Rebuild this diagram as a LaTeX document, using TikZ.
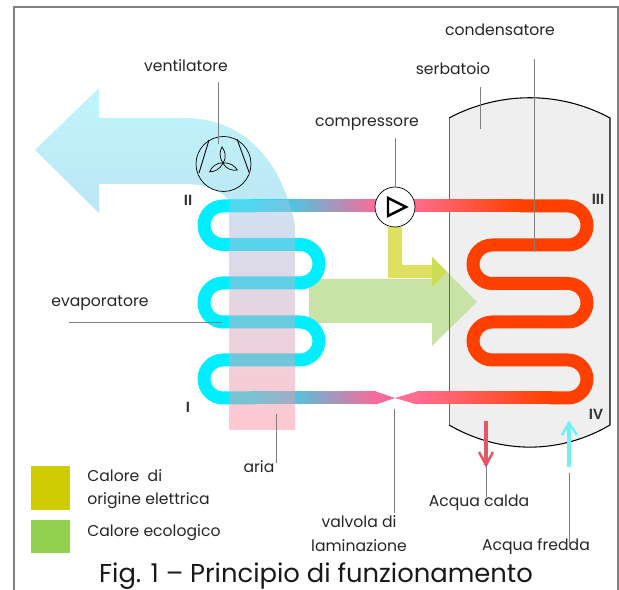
\documentclass[tikz,border=0pt]{standalone}
\usepackage{fontspec}
\setmainfont{Poppins}
\newfontfamily\romanfont{Liberation Sans}
\usepackage{tikz}
\definecolor{pipecold}{HTML}{00EEFF}
\definecolor{pipehot}{HTML}{FF4000}
\definecolor{pipepink}{HTML}{FF6E90}
\definecolor{pipemauve}{HTML}{F56C9A}
\definecolor{airtop}{HTML}{C0F5FB}
\definecolor{airbot}{HTML}{BCE6F4}
\definecolor{airmid}{HTML}{A0C4E4}
\definecolor{airmix}{HTML}{D1B1C1}
\definecolor{airlow}{HTML}{FF91A1}
\definecolor{tankgrey}{HTML}{EFEFEF}
\definecolor{heatgreen}{HTML}{C8E3A5}
\definecolor{heatyellow}{HTML}{DDE060}
\definecolor{heathead}{HTML}{CBDC55}
\definecolor{waterhot}{HTML}{E85565}
\definecolor{watercold}{HTML}{70F0F5}
\definecolor{legyellow}{HTML}{CCCC00}
\definecolor{leggreen}{HTML}{92D050}
% #1,#2 from and to x, #3 y, #4,#5 colours
\newcommand{\gradrun}[5]{%
	\foreach \i in {0,...,30} {
		\pgfmathsetmacro{\mixpct}{\i/30*100}
		\pgfmathsetmacro{\xstart}{#1+(#2-#1)*\i/31}
		\draw [line width=0.26cm,#5!\mixpct!#4] (\xstart,#3) -- (#2,#3);
	}}

\begin{document}
\begin{tikzpicture}[x=0.02cm,y=-0.02cm]

	\tikzstyle{lab}=[inner sep=0pt,anchor=base,text=black!85,font=\fontsize{8.9}{10}\selectfont]
	\tikzstyle{roman}=[inner sep=0pt,anchor=base,text=black!80,font=\fontsize{8.5}{9}\selectfont\romanfont\bfseries]
	\tikzstyle{leader}=[draw=black!50,line width=0.5pt]
	\tikzstyle{pipe}=[line width=0.26cm,rounded corners=0.384cm]

	\useasboundingbox (0,0) rectangle (619,590);
	\draw [black!50,line width=1.1pt] (14,590) -- (14,7) -- (618,7) -- (618,590);

	% air
	\path [top color=airtop,bottom color=airbot] (35,150) -- (99,88) -- (99,118) -- (185,118) .. controls (235,118) and (272,150) .. (288,200)
		-- (229,200) .. controls (220,190) and (205,184) .. (185,184) -- (99,184) -- (99,213) -- cycle;

	% tank and heat arrows
	\fill [tankgrey] (449,118) .. controls (500,91) and (560,91) .. (610,118) -- (610,425)
		.. controls (560,454.5) and (500,454.5) .. (449,425) -- cycle;
	\fill [heatgreen] (309,279) -- (432,279) -- (432,257) -- (477,302) -- (432,346) -- (432,323) -- (309,323) -- cycle;
	\fill [heatyellow] (388,227) -- (402,227) -- (402,265) -- (432,265) -- (432,278) -- (388,278) -- cycle;
	\fill [heathead] (432,257) -- (447,272) -- (432,287) -- cycle;
	\draw [black!60,line width=0.5pt] (449,425) -- (449,118);
	\draw [black,line width=0.6pt] (449,118) .. controls (500,91) and (560,91) .. (610,118) -- (610,425)
		.. controls (560,454.5) and (500,454.5) .. (449,425);

	% evaporator coil
	\draw [pipe,pipecold] (255,398) -- (204,398) -- (204,360) -- (319,360) -- (319,322) -- (204,322) -- (204,283)
		-- (319,283) -- (319,244.5) -- (204,244.5) -- (204,206) -- (255,206);
	\gradrun{250}{376}{206}{pipecold}{pipemauve}
	\gradrun{250}{376}{398}{pipecold}{pipemauve}
	\fill [pipemauve] (376,391.5) -- (395,398) -- (376,404.5) -- cycle;
	\fill [pipepink] (395,398) -- (417,391.5) -- (417,404.5) -- cycle;

	% condenser coil
	\draw [pipe,pipehot] (520,206) -- (587,206) -- (587,245) -- (473,245) -- (473,283.5) -- (587,283.5)
		-- (587,322) -- (473,322) -- (473,360) -- (587,360) -- (587,398) -- (550,398);
	\gradrun{410}{522}{206}{pipepink}{pipehot}
	\gradrun{417}{552}{398}{pipepink}{pipehot}

	% air band goes over the coil
	\path [fill opacity=0.5,top color=airmid,middle color=airmix,bottom color=airlow] (229,200) -- (288,200)
		.. controls (292,212) and (295,220) .. (295,230) -- (295,430) -- (229,430) -- cycle;

	% fan
	\node [circle,draw=black,line width=0.4pt,minimum size=1.1cm,inner sep=0pt] (fan) at (223.5,164) {};
	\draw [black,line width=0.5pt] (209,140) -- (199,173);
	\draw [black,line width=0.5pt] (237,139) -- (249,172);
	\foreach \a in {0,120,240}
		\draw [black,line width=0.4pt,rotate around={\a:(223,163)}] (223,163) .. controls (218.5,156) and (220,151) .. (222,147)
			.. controls (225,151) and (227,157) .. (223,163);

	% compressor
	\node [circle,draw=black,fill=white,line width=0.4pt,minimum size=0.8cm,inner sep=0pt] (compr) at (395,207) {};
	\draw [black,fill=white,line width=1.4pt,line join=miter] (388,198) -- (406,207) -- (388,216) -- cycle;

	% water
	\coordinate (hotin) at (486,421);
	\coordinate (hotout) at (486,465);
	\coordinate (coldin) at (569,467);
	\coordinate (coldout) at (569,423);
	\draw [draw=waterhot,line width=0.08cm] (hotin) -- (hotout);
	\draw [draw=waterhot,line width=0.05cm] (479,452) -- (hotout) -- (493,452);
	\draw [draw=watercold,line width=0.08cm] (coldin) -- (coldout);
	\draw [draw=watercold,line width=0.05cm] (562,435) -- (coldout) -- (577,435);

	% labels
	\node [lab] (ventilatore) at (186,72) {ventilatore};
	\node [lab] (condensatore) at (500,36) {condensatore};
	\node [lab] (serbatoio) at (453,75) {serbatoio};
	\node [lab] (compressore) at (367,127) {compressore};
	\node [lab] (evaporatore) at (100,307) {evaporatore};
	\node [lab] (aria) at (259,473) {aria};
	\node [lab,anchor=base west] (caloreA) at (87,482) {Calore\ \ di};
	\node [lab,anchor=base west] (caloreB) at (87,505) {origine elettrica};
	\node [lab,anchor=base west] (caloreC) at (87,537) {Calore ecologico};
	\node [lab] (valvolaA) at (359,528) {valvola di};
	\node [lab] (valvolaB) at (359,552) {laminazione};
	\node [lab] (calda) at (479,507) {Acqua calda};
	\node [lab] (fredda) at (536,551) {Acqua fredda};
	\node [inner sep=0pt,anchor=base,text=black!90,font=\fontsize{14.7}{16}\selectfont] (title) at (316,583) {Fig. 1 -- Principio di funzionamento};

	\node [roman] (rII) at (188,206) {II};
	\node [roman] (rI) at (188,413) {I};
	\node [roman] (rIII) at (598,205) {III};
	\node [roman] (rIV) at (596,420) {IV};

	% legend
	\node [fill=legyellow,inner sep=0pt,minimum width=0.78cm,minimum height=0.88cm] (legA) at (50.5,488) {};
	\node [fill=leggreen,inner sep=0pt,minimum width=0.78cm,minimum height=0.66cm] (legB) at (50.5,536.5) {};

	% leaders
	\coordinate (fanend) at (218,144);
	\coordinate (fantop) at (218,82);
	\coordinate (comptop) at (395,138);
	\coordinate (serbtop) at (480,87);
	\coordinate (serbend) at (480,129);
	\coordinate (condtop) at (534,59);
	\coordinate (condend) at (534,252);
	\coordinate (evapleft) at (69,322);
	\coordinate (evapend) at (222,322);
	\coordinate (ariatop) at (276,414);
	\coordinate (ariaend) at (276,463);
	\coordinate (valvetop) at (394,409);
	\coordinate (valveend) at (394,513);
	\coordinate (caldaend) at (486,497);
	\coordinate (freddatop) at (569,473);
	\coordinate (freddaend) at (569,545);
	\draw [leader] (fantop) -- (fanend);
	\draw [leader] (comptop) -- (compr.north);
	\draw [leader] (serbtop) -- (serbend);
	\draw [leader] (condtop) -- (condend);
	\draw [leader] (evapleft) -- (evapend);
	\draw [leader] (ariatop) -- (ariaend);
	\draw [leader] (valvetop) -- (valveend);
	\draw [leader] (hotout) -- (caldaend);
	\draw [leader] (freddatop) -- (freddaend);

\end{tikzpicture}
\end{document}
